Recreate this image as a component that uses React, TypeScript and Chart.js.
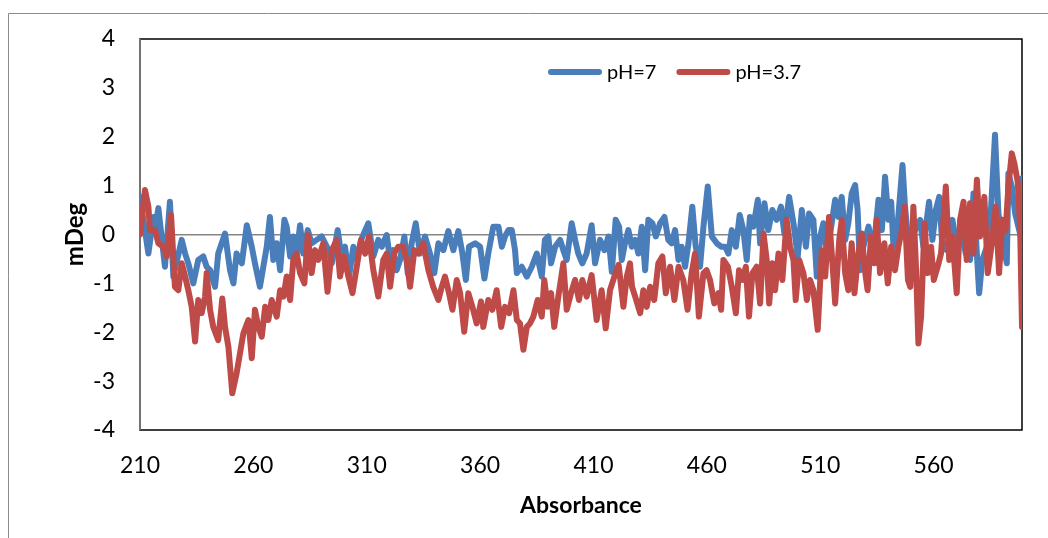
import React, { useEffect, useRef } from "react";
import { Chart, registerables } from "chart.js";

Chart.register(...registerables);

// pH = 7 series (wavelength, mDeg)
const neutralWavelengths = [
  210, 213.7, 215.9, 216.6, 218.1, 221, 223.2, 224.7, 228.4, 229.9, 231.3, 233.5, 235.7, 237.9, 239.4, 240.9,
  243.1, 244.5, 247.5, 249.7, 251.2, 252.6, 254.9, 257.1, 259.3, 260.7, 262.9, 265.9, 267.3, 268.8, 270.3,
  271.8, 273.7, 274.7, 276.2, 277.6, 279.1, 280.6, 282, 284, 285.7, 287.9, 290.1, 292.4, 294.6, 297.2, 298.7,
  300.4, 302.2, 304.1, 305.6, 307.5, 310.7, 312.9, 315.1, 316.6, 318.8, 320.3, 321.7, 323.2, 324.7, 326.6,
  328.1, 329.8, 331.6, 333.5, 335.7, 337.9, 339.8, 341.6, 343.8, 346, 348.2, 350.4, 352.2, 353.7, 355.1,
  357.8, 360, 361.9, 363.6, 365.8, 368.1, 369.6, 371, 372.5, 374, 375.4, 376.2, 378.4, 380.6, 382.8, 385,
  387.2, 388.6, 390.1, 391.3, 393.1, 395.3, 396.7, 398.2, 400.4, 401.9, 403.3, 405.1, 407, 409.2, 410.7,
  412.9, 414.8, 416.6, 418.1, 419.8, 421.3, 422.5, 423.9, 425.4, 426.9, 428.4, 429.8, 431.3, 432.8, 434.2,
  436, 437.5, 439.4, 441.3, 443, 444.5, 446, 447.5, 448.9, 450.4, 451.9, 453.6, 455.1, 457, 458.5, 460.4,
  462.2, 464.4, 466.3, 468.1, 469.5, 471, 472.8, 474.5, 476.1, 477.6, 479, 480.5, 482.5, 483.5, 485.4, 487.1,
  488.9, 490.8, 492.7, 494.2, 496.3, 498.2, 500.1, 501.9, 503.7, 505.1, 507, 508.5, 510, 511.4, 512.9, 514.4,
  516.6, 518, 519.5, 521, 522.4, 523.9, 525.4, 526.5, 527.6, 529, 531.3, 533.5, 535.7, 537.2, 538.6, 540.1,
  541.3, 542.3, 544.2, 546.3, 547.4, 548.9, 551.1, 554.1, 555.5, 558, 559.5, 561, 562.5, 563.9, 565.8, 568.3,
  570.2, 572.2, 574.2, 576.1, 577.6, 579.1, 580.1, 581.5, 583.5, 585.4, 587.1, 588.6, 590.4, 592.3, 593,
  594.5, 596, 597.4, 598.5, 599,
];
const neutralValues = [
  0.77, -0.39, 0.36, 0.09, 0.54, -0.66, 0.67, -0.86, -0.11, -0.39, -0.59, -1.0, -0.52, -0.45, -0.66, -0.73,
  -1.07, -0.39, 0.02, -0.73, -1.0, -0.39, -0.59, 0.19, -0.25, -0.59, -1.07, -0.25, 0.36, -0.52, -0.18,
  -0.73, 0.3, 0.16, -0.45, -0.04, -0.39, 0.19, -0.39, 0.09, -0.18, -0.11, -0.04, -0.25, -0.59, 0.09, -0.39,
  -0.25, -0.86, -0.25, -0.52, -0.11, 0.23, -0.45, -0.11, -0.25, -0.01, -0.52, -0.32, -0.73, -0.52, -0.04,
  -0.79, -0.18, 0.23, -0.39, -0.04, -0.39, -0.79, -0.18, -0.32, 0.07, -0.32, 0.07, -0.39, -0.93, -0.25,
  -0.18, -0.25, -0.9, -0.39, 0.16, 0.16, -0.25, -0.04, 0.09, 0.09, -0.32, -0.79, -0.66, -0.86, -0.66, -0.39,
  -0.86, -0.11, -0.04, -0.59, -0.25, -0.11, -0.32, -0.52, 0.23, -0.11, -0.39, -0.59, -0.39, 0.19, -0.59,
  -0.11, -0.32, -0.04, -0.76, 0.3, 0.16, -0.52, -0.18, 0.09, -0.25, -0.11, -0.39, 0.16, -0.73, 0.3,
  0.23, -0.04, 0.23, 0.36, -0.11, -0.18, 0.09, -0.52, -0.25, -0.66, -0.18, 0.57, -0.25, -0.66, 0.16, 0.98,
  -0.04, -0.18, -0.25, -0.25, -0.39, 0.09, -0.25, 0.4, 0.09, -0.52, 0.36, 0.16, 0.71, -0.18, 0.64, 0.09,
  0.5, 0.3, 0.57, 0.02, 0.77, 0.23, -0.45, 0.5, -0.25, 0.43, 0.3, -0.86, -0.04, 0.23, -0.39, 0.02,
  0.71, 0.36, 0.77, -0.11, 0.23, 0.84, 1.01, 0.5, -0.73, -0.25, 0.16, -0.32, 0.71, 0.09, 1.18, 0.3,
  0.67, -0.25, 0.23, 1.42, 0.57, -0.18, 0.02, 0.3, -0.25, 0.67, -0.11, 0.5, 0.77, -0.25, -0.32, 0.3,
  -0.25, 0.09, -0.39, -0.52, 0.84, -0.39, -1.2, -0.52, -0.25, 0.57, 2.04, 0.43, -0.11, -0.59, 1.25,
  0.98, 0.43, 0.16, -0.04, 1.15,
];

// pH = 3.7 series (wavelength, mDeg)
const acidWavelengths = [
  210, 212.2, 213.7, 214.4, 216.6, 218.1, 220.3, 221.8, 223.7, 225.4, 226.9, 228.4, 229.9, 231.3, 232.8,
  234.3, 235.7, 237.2, 238.7, 239.4, 240.9, 242.3, 244.5, 246.3, 247.5, 249, 250.7, 252.6, 254.1, 255.6,
  257.8, 259.3, 260.7, 262.2, 263.7, 265.2, 266.6, 268.1, 270.3, 271.8, 273.3, 274.7, 276.2, 277.6, 279.1,
  280.6, 282.5, 284, 285.7, 287.2, 288.6, 290.8, 292.7, 294.6, 296.8, 298.2, 300.1, 301.9, 303.7, 305.6,
  307.5, 309.3, 311, 312.9, 315.1, 317.3, 318.8, 320.3, 322.1, 323.9, 326.1, 327.6, 329.1, 331, 332.7,
  334.9, 337.2, 339.3, 341.6, 343.1, 344.5, 346.3, 347.8, 349.7, 351.2, 353, 354.8, 356.6, 358.5, 360.4,
  361.4, 363.6, 365.4, 367.3, 369.3, 371, 372.8, 374.7, 376.2, 377.6, 379.1, 380.6, 382, 383.5, 385.4,
  387.2, 388.3, 389.8, 391.3, 392.7, 394.5, 396.7, 398.2, 400.1, 401.9, 403.6, 405.1, 407, 409.2, 411.4,
  413.6, 415.4, 417.3, 419.2, 421.1, 423.2, 424.7, 426.1, 427, 428.4, 430.6, 432, 433.5, 435, 436.8, 438.6,
  440.4, 441.9, 443.8, 445.7, 447.5, 449.6, 451.5, 453.3, 454.8, 456.5, 458.5, 459.9, 461.4, 463.3, 465.1,
  466.3, 467.3, 469.3, 471, 472.8, 474.2, 475.7, 477.2, 478.6, 480.1, 482, 483.5, 485, 486.4, 487.5, 488.9,
  490.1, 491.6, 493.3, 495.2, 496.7, 498.2, 499.2, 500.7, 502.6, 504.1, 505.5, 507, 508.9, 510.7, 512.2,
  513.9, 515.4, 516.6, 518.4, 519.5, 521, 522.4, 523.9, 525.1, 526.8, 528.3, 529.7, 530.9, 532.4, 533.9,
  534.9, 536.4, 538.3, 539.8, 541.3, 543, 544.5, 546, 547.2, 548.7, 549.7, 551.1, 552.3, 553.3, 554.5, 556,
  557.4, 558.9, 560.1, 561.8, 563.3, 565.4, 566.9, 568.3, 570.2, 571.7, 573.2, 574.6, 576.1, 577.6, 579.1,
  580.5, 582.4, 583.9, 585.7, 587.4, 588.9, 590.4, 591.8, 593, 594.5, 595.6, 597.1, 598.2, 599,
];
const acidValues = [
  0.0, 0.91, 0.57, 0.09, 0.09, -0.18, -0.25, -0.45, 0.4, -1.07, -1.14, -0.59, -0.86, -1.14, -1.48,
  -2.19, -1.34, -1.61, -1.27, -0.79, -1.54, -1.89, -2.16, -1.31, -1.89, -2.3, -3.25, -2.84, -2.43, -2.02,
  -1.75, -2.53, -1.54, -1.89, -2.09, -1.48, -1.75, -1.34, -1.68, -1.14, -1.27, -0.86, -1.34, -0.52, -0.39,
  -0.79, -1.0, -0.01, -0.79, -0.32, -0.52, -0.18, -1.17, -0.32, -0.11, -0.86, -0.45, -0.86, -1.2, -0.66,
  -0.11, -0.39, -0.04, -0.73, -1.27, -0.52, -0.39, -1.07, -0.39, -0.25, -0.25, -0.52, -1.07, -0.32, -0.39,
  -0.18, -0.73, -1.07, -1.34, -1.07, -0.86, -1.2, -1.54, -0.93, -1.2, -1.99, -1.2, -1.48, -1.82, -1.37,
  -1.89, -1.34, -1.54, -1.14, -1.89, -1.48, -1.61, -1.14, -1.75, -1.82, -2.36, -1.89, -1.82, -1.68, -1.34,
  -1.68, -0.93, -1.48, -1.2, -1.89, -1.27, -0.59, -1.54, -1.2, -0.93, -1.34, -0.93, -1.27, -0.83, -1.75,
  -1.14, -1.92, -1.14, -0.86, -0.62, -1.48, -0.86, -0.59, -1.07, -1.27, -1.61, -1.14, -1.48, -1.07, -1.34, -0.59,
  -0.45, -1.2, -0.66, -1.34, -0.66, -0.93, -1.54, -0.79, -0.39, -1.68, -0.79, -0.73, -0.93, -1.41, -1.2,
  -1.54, -0.52, -0.66, -1.07, -1.61, -0.73, -0.93, -0.66, -1.68, -0.79, -0.66, -1.41, 0.02, -0.52, -1.41, -0.59,
  -1.14, -0.39, -0.93, 0.3, -0.25, -0.52, -1.34, -0.52, -0.79, -1.34, -0.93, -1.14, -1.95, -0.32, -0.86,
  0.36, -0.59, -1.41, -0.11, 0.3, -0.79, -1.14, -0.18, -1.2, -0.4, 0.02, -0.73, -1.14, -0.04, -0.59,
  0.3, -0.79, -0.18, -1.0, -0.25, -0.73, -0.25, 0.09, 0.57, -0.93, -1.07, 0.57, -0.73, -2.23, -1.68, 0.23,
  -0.79, -0.25, -0.93, -0.66, -0.39, 0.98, -0.52, -0.04, -1.2, 0.3, 0.67, -0.52, 0.64, -0.39, 1.12,
  -0.04, 0.77, -0.79, -0.18, 0.57, -0.79, 0.3, 0.09, 0.98, 1.66, 1.46, 1.08, 0.09, -1.89,
];

const xTickValues = [210, 260, 310, 360, 410, 460, 510, 560];
const yTickMin = -4;
const yTickMax = 4;
const seriesLabels = ["pH=7", "pH=3.7"];
const xTitle = "Absorbance";
const yTitle = "mDeg";

const BLUE = "#4A7EBB";
const RED = "#BE4B48";
const LINE_WIDTH = 6;
const FONT = "Lato, 'Open Sans', 'Liberation Sans', sans-serif";

export default function App() {
  const ref = useRef<HTMLCanvasElement | null>(null);

  useEffect(() => {
    const canvas = ref.current;
    if (!canvas) return;

    const framePlugin = {
      id: "frame",
      beforeDraw(chart: any) {
        const ctx = chart.ctx;
        ctx.save();
        ctx.fillStyle = "#ffffff";
        ctx.fillRect(0, 0, chart.width, chart.height);
        ctx.strokeStyle = "#8c8c8c";
        ctx.lineWidth = 1;
        ctx.beginPath();
        ctx.moveTo(8.5, chart.height);
        ctx.lineTo(8.5, 13.5);
        ctx.lineTo(chart.width, 13.5);
        ctx.stroke();
        ctx.restore();
      },
      beforeDatasetsDraw(chart: any) {
        const { ctx, chartArea: a } = chart;
        ctx.save();
        ctx.strokeStyle = "#000000";
        ctx.lineWidth = 1.5;
        ctx.strokeRect(a.left, a.top, a.right - a.left, a.bottom - a.top);
        ctx.strokeStyle = "#868686";
        ctx.beginPath();
        ctx.moveTo(a.left, a.top);
        ctx.lineTo(a.left, a.bottom);
        ctx.stroke();
        ctx.restore();
      },
      afterDraw(chart: any) {
        const ctx = chart.ctx;
        ctx.save();
        ctx.font = `20px ${FONT}`;
        ctx.textBaseline = "middle";
        ctx.textAlign = "left";
        const y = 72;
        let x = 551;
        const colors = [BLUE, RED];
        seriesLabels.forEach((label, i) => {
          ctx.strokeStyle = colors[i];
          ctx.lineWidth = LINE_WIDTH;
          ctx.lineCap = "round";
          ctx.beginPath();
          ctx.moveTo(x, y);
          ctx.lineTo(x + 48, y);
          ctx.stroke();
          ctx.fillStyle = "#000000";
          ctx.fillText(label, x + 56, y + 1);
          x += 56 + ctx.measureText(label).width + 23;
        });
        ctx.restore();
      },
    };

    const lineStyle = {
      borderWidth: LINE_WIDTH,
      borderCapStyle: "round",
      borderJoinStyle: "round",
      pointRadius: 0,
      pointHoverRadius: 0,
      tension: 0,
    };

    const chart = new Chart(canvas, {
      type: "line",
      data: {
        datasets: [
          {
            label: seriesLabels[0],
            data: neutralWavelengths.map((x, i) => ({ x, y: neutralValues[i] })),
            borderColor: BLUE,
            backgroundColor: BLUE,
            order: 1,
            ...lineStyle,
          },
          {
            label: seriesLabels[1],
            data: acidWavelengths.map((x, i) => ({ x, y: acidValues[i] })),
            borderColor: RED,
            backgroundColor: RED,
            order: 0,
            ...lineStyle,
          },
        ],
      },
      options: {
        responsive: false,
        animation: false,
        devicePixelRatio: 1,
        layout: { padding: { top: 39, right: 26, left: 0, bottom: 0 } },
        plugins: { legend: { display: false }, tooltip: { enabled: false } },
        scales: {
          x: {
            type: "linear",
            min: 210,
            max: 599,
            afterBuildTicks: (s: any) => {
              s.ticks = xTickValues.map((v) => ({ value: v }));
            },
            afterFit: (s: any) => {
              s.height = 108;
            },
            grid: { display: false, drawTicks: false },
            border: { display: false },
            ticks: {
              padding: 22,
              color: "#000000",
              maxRotation: 0,
              autoSkip: false,
              font: { family: FONT, size: 23 },
              callback: (v: any) => String(v),
            },
            title: {
              display: true,
              text: xTitle,
              color: "#000000",
              font: { family: FONT, size: 23, weight: "bold" },
              padding: { top: 0, bottom: 19 },
            },
          },
          y: {
            min: yTickMin,
            max: yTickMax,
            afterFit: (s: any) => {
              s.width = 140;
            },
            grid: {
              drawTicks: false,
              lineWidth: 1.5,
              color: (c: any) => (c.tick && c.tick.value === 0 ? "#868686" : "rgba(0,0,0,0)"),
            },
            border: { display: false },
            ticks: {
              stepSize: 1,
              padding: 25,
              color: "#000000",
              font: { family: FONT, size: 23 },
            },
            title: {
              display: true,
              text: yTitle,
              color: "#000000",
              font: { family: FONT, size: 24, weight: "bold" },
              padding: { top: 61, bottom: 0 },
            },
          },
        },
      },
      plugins: [framePlugin],
    } as any);

    return () => chart.destroy();
  }, []);

  return (
    <div style={{ position: "relative", width: 1048, height: 538 }}>
      <style>{`html,body{margin:0;padding:0;overflow:hidden;background:#fff}`}</style>
      <canvas ref={ref} width={1048} height={538} style={{ display: "block" }} />
    </div>
  );
}
